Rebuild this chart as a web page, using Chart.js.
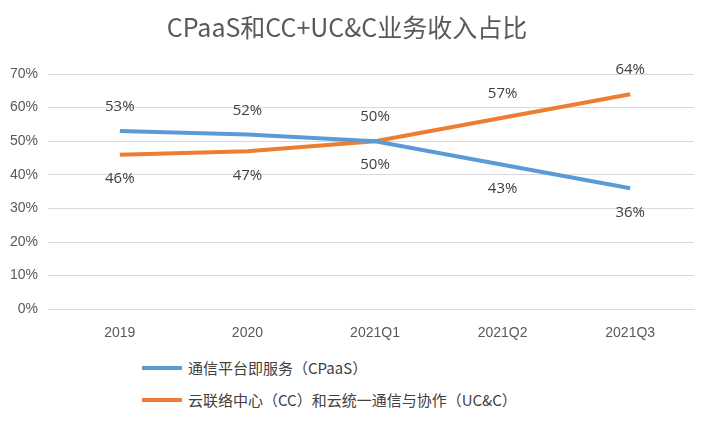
<!DOCTYPE html>
<html><head><meta charset="utf-8">
<script src="https://cdn.jsdelivr.net/npm/chart.js@4"></script>
<style>
body{margin:0;background:#fff;font-family:"Noto Sans CJK SC","Open Sans",sans-serif;}
#wrap{position:relative;width:713px;height:423px;}
#c{position:absolute;left:0;top:0;}
.leg{position:absolute;left:142px;font-size:15px;color:#404040;display:flex;align-items:center;}
.leg span.l{display:inline-block;width:40px;height:4px;margin-right:6px;}
</style></head><body>
<div id="wrap"><canvas id="c" width="713" height="350"></canvas>
<div class="leg" style="top:357px"><span class="l" style="background:#5B9BD5"></span>通信平台即服务（CPaaS）</div>
<div class="leg" style="top:389px"><span class="l" style="background:#ED7D31"></span>云联络中心（CC）和云统一通信与协作（UC&amp;C）</div>
</div>
<script>
const categories=["2019","2020","2021Q1","2021Q2","2021Q3"];
const cpaas=[53,52,50,43,36];
const ccucc=[46,47,50,57,64];
const yTicks=[0,10,20,30,40,50,60,70];
const cpaasPos=["top","top","bottom","bottom","bottom"];
const ccuccPos=["bottom","bottom","top","top","top"];
const labelPlugin={id:"lbl",afterDatasetsDraw(ch){
 const ctx=ch.ctx;ctx.save();ctx.font="15px 'Open Sans','Liberation Sans',sans-serif";ctx.fillStyle="#404040";ctx.textAlign="center";ctx.textBaseline="middle";
 const pos=[cpaasPos,ccuccPos];
 ch.data.datasets.forEach((ds,i)=>{ch.getDatasetMeta(i).data.forEach((p,j)=>{
  const dy=pos[i][j]==="top"?-24:24;ctx.fillText(ds.data[j]+"%",p.x,p.y+dy);});});
 ctx.restore();}};
new Chart(document.getElementById("c"),{type:"line",
data:{labels:categories,datasets:[
{label:"通信平台即服务（CPaaS）",data:cpaas,borderColor:"#5B9BD5",borderWidth:4,pointRadius:0,tension:0},
{label:"云联络中心（CC）和云统一通信与协作（UC&C）",data:ccucc,borderColor:"#ED7D31",borderWidth:4,pointRadius:0,tension:0}]},
options:{responsive:false,animation:false,
layout:{padding:{left:0,right:19,top:0,bottom:0}},
plugins:{legend:{display:false},tooltip:{enabled:false},
title:{display:true,text:"CPaaS和CC+UC&C业务收入占比",color:"#595959",font:{size:25,family:"'Noto Sans CJK SC',sans-serif",weight:"normal"},padding:{top:12,bottom:32}}},
scales:{x:{offset:true,grid:{display:false},border:{color:"#D9D9D9"},ticks:{color:"#595959",font:{size:14},padding:8}},
y:{min:0,max:70,afterBuildTicks(a){a.ticks=yTicks.map(v=>({value:v}));},
grid:{color:"#D9D9D9"},border:{display:false},
ticks:{color:"#595959",font:{size:14},padding:10,callback:v=>v+"%"}}}},
plugins:[labelPlugin]});
</script></body></html>
